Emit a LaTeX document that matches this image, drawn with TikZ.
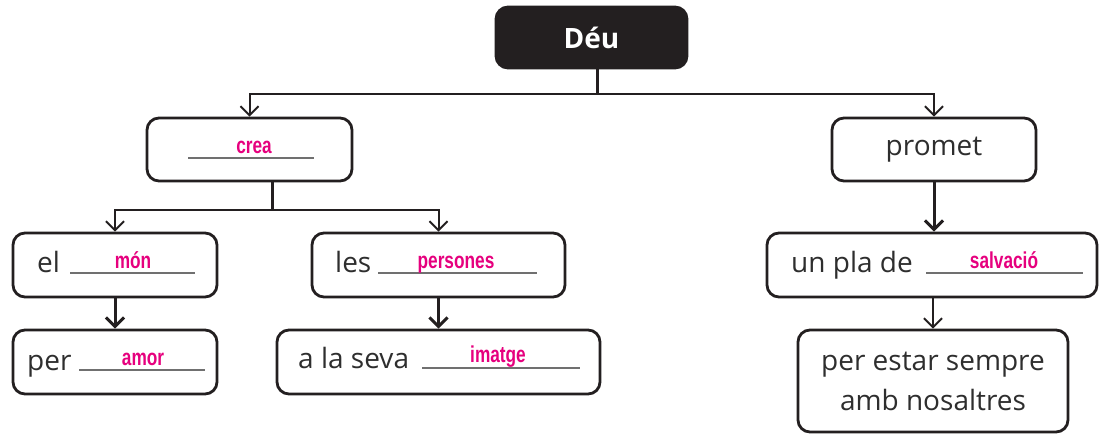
\documentclass[tikz,border=0pt]{standalone}
\usepackage{fontspec}
\setmainfont{Open Sans}
\newfontfamily\pinkfont[FakeStretch=0.75]{Liberation Sans}
\usetikzlibrary{arrows.meta}
\definecolor{ink}{HTML}{231F20}
\definecolor{txt}{HTML}{2E2E2E}
\definecolor{pinkc}{RGB}{230,0,126}
\definecolor{ulc}{HTML}{707070}
\begin{document}
\begin{tikzpicture}[x=1pt,y=-1pt,
 box/.style={draw=ink,line width=2.8pt,rounded corners=12pt,inner sep=0pt,fill=white},
 lbl/.style={font=\fontsize{28}{40}\selectfont,text=txt,inner sep=0pt},
 ans/.style={font=\pinkfont\bfseries\fontsize{23}{26}\selectfont,text=pinkc,inner sep=0pt,anchor=base},
 blank/.style={draw=ulc,line width=1.6pt},
 stem/.style={draw=ink,line width=3pt},
 branch/.style={draw=ink,line width=2pt},
 arr/.style={-{Straight Barb[length=9pt,width=18pt]}},
]
\useasboundingbox (0,0) rectangle (1100,434);
% boxes
\node[box,fill=ink,minimum width=191pt,minimum height=61pt,text=white,font=\bfseries\fontsize{28}{32}\selectfont] (deu) at (591.5,37.5) {Déu};
\node[box,minimum width=205pt,minimum height=63pt] (crea) at (249.5,149.5) {};
\node[box,lbl,minimum width=204pt,minimum height=63pt] (promet) at (934,149.5) {promet};
\node[box,minimum width=204pt,minimum height=64pt] (el) at (115,265) {};
\node[box,minimum width=253pt,minimum height=64pt] (les) at (438.5,265) {};
\node[box,minimum width=330pt,minimum height=64pt] (unpla) at (932,265) {};
\node[box,minimum width=204pt,minimum height=64pt] (per) at (115,362) {};
\node[box,minimum width=323pt,minimum height=64pt] (seva) at (438.5,362) {};
\node[box,lbl,align=center,minimum width=270pt,minimum height=102pt] (estar) at (933,381) {per estar sempre\\amb nosaltres};
% connectors
\coordinate (j1) at (597,94);
\draw[stem] (deu.south -| j1) -- (j1);
\draw[branch,arr] (j1) -| (crea.north);
\draw[branch,arr] (j1) -| (promet.north);
\coordinate (j2) at (272,210);
\draw[stem] (crea.south -| j2) -- (j2);
\draw[branch,arr] (j2) -| (el.north);
\draw[branch,arr] (j2) -| (les.north);
\draw[stem,arr] (el) -- (per);
\draw[stem,arr] (les) -- (seva);
\draw[stem,arr] (promet.south) -- (promet.south |- unpla.north);
\draw[branch,arr] (estar.north |- unpla.south) -- (estar.north);
% texts and blanks
\draw[blank] (188,158) -- (314,158);
\node[ans] (acrea) at (254,153) {crea};
\node[lbl,anchor=base west] (tel) at (37,272) {el};
\draw[blank] (70,273) -- (195,273);
\node[ans] (amon) at (133,268) {món};
\node[lbl,anchor=base west] (tper) at (27,370) {per};
\draw[blank] (79,370) -- (205,370);
\node[ans] (aamor) at (143,365) {amor};
\node[lbl,anchor=base west] (tles) at (335,272) {les};
\draw[blank] (378,273) -- (537,273);
\node[ans] (apers) at (456,268) {persones};
\node[lbl,anchor=base west] (tseva) at (298,368) {a la seva};
\draw[blank] (422,368) -- (580,368);
\node[ans] (aimat) at (498,362) {imatge};
\node[lbl,anchor=base west] (tunpla) at (791,272) {un pla de};
\draw[blank] (926,273) -- (1083,273);
\node[ans] (asalv) at (1004,268) {salvació};
\end{tikzpicture}
\end{document}
